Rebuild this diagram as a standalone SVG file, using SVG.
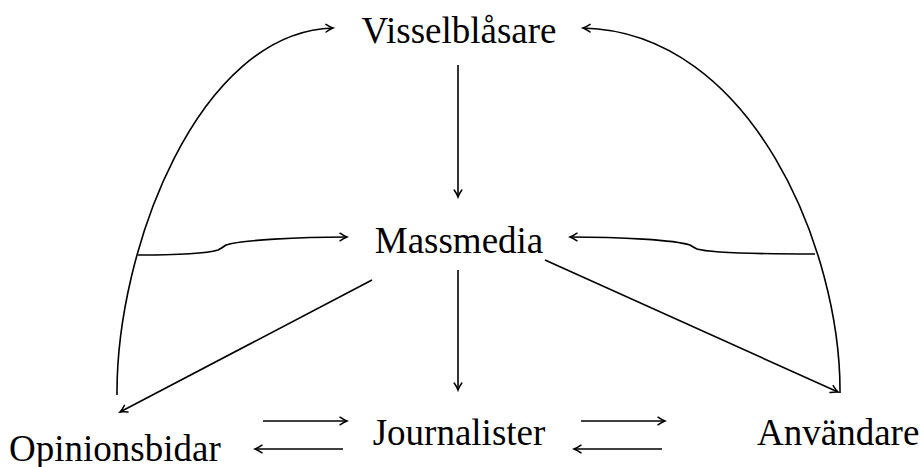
<svg xmlns="http://www.w3.org/2000/svg" width="921" height="467" viewBox="0 0 921 467">
<style>
text{font-family:"Liberation Serif","Times New Roman",serif;font-size:37px;fill:#000}
.c{fill:none;stroke:#000;stroke-width:1.6}
</style>
<defs>
<marker id="ah" viewBox="-10 -6 12 12" markerWidth="12" markerHeight="12" refX="0" refY="0" orient="auto" markerUnits="userSpaceOnUse">
<path d="M-7,-3.8 Q-3,-1 0,0 Q-3,1 -7,3.8" fill="none" stroke="#000" stroke-width="1.5" stroke-linecap="round"/>
</marker>
</defs>
<rect width="921" height="467" fill="#fff"/>
<g id="connectors">
<path class="c" marker-end="url(#ah)" d="M458,65 L458,197"/>
<path class="c" marker-end="url(#ah)" d="M458,270 L458,390"/>
<path class="c" marker-end="url(#ah)" d="M117,395 C116,250 198,32 333,28"/>
<path class="c" marker-end="url(#ah)" d="M840,393 C841,250 752,32 583,28"/>
<path class="c" marker-end="url(#ah)" d="M138,255 C180,255 208,253 218,250 Q222,248 226,245 C240,240 300,237 347,237"/>
<path class="c" marker-end="url(#ah)" d="M815,254 C770,254 710,253 697,249 Q693,247 690,245 C675,240 620,237 570,237"/>
<path class="c" marker-end="url(#ah)" d="M372,280 L120,412"/>
<path class="c" marker-end="url(#ah)" d="M545,260 L838,392"/>
<path class="c" marker-end="url(#ah)" d="M263,421 L347,421"/>
<path class="c" marker-end="url(#ah)" d="M343,449 L255,449"/>
<path class="c" marker-end="url(#ah)" d="M581,421 L665,421"/>
<path class="c" marker-end="url(#ah)" d="M662,449 L574,449"/>
</g>
<g id="visselblasare"><text x="459" y="43" text-anchor="middle">Visselblåsare</text></g>
<g id="massmedia"><text x="459" y="253" text-anchor="middle">Massmedia</text></g>
<g id="journalister"><text x="459" y="445" text-anchor="middle">Journalister</text></g>
<g id="opinionsbidar"><text x="9" y="461">Opinionsbidar</text></g>
<g id="anvandare"><text x="757" y="445">Användare</text></g>
</svg>
